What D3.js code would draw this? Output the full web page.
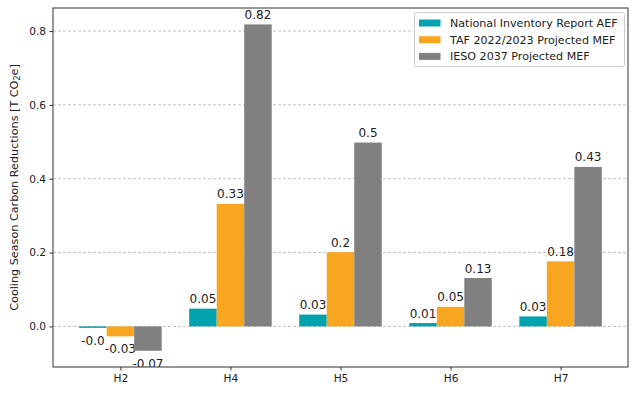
<!DOCTYPE html>
<html>
<head>
<meta charset="utf-8" />
<script src="https://d3js.org/d3.v7.min.js"></script>
<style>
  body { margin: 0; background: #fff; }
  text { font-family: "DejaVu Sans", sans-serif; }
</style>
</head>
<body>
<svg width="638" height="395"></svg>
<script>
const categories = ["H2", "H4", "H5", "H6", "H7"];
const seriesNames = ["National Inventory Report AEF", "TAF 2022/2023 Projected MEF", "IESO 2037 Projected MEF"];
const nirAEF = [-0.004, 0.048, 0.032, 0.009, 0.027];
const tafMEF = [-0.027, 0.332, 0.201, 0.053, 0.176];
const iesoMEF = [-0.066, 0.818, 0.498, 0.131, 0.432];
const yTicks = [0.0, 0.2, 0.4, 0.6, 0.8];
const colors = ["#00a3ad", "#f8a51f", "#808080"];

const svg = d3.select("svg");
const margin = { top: 8, right: 10, bottom: 28, left: 53 };
const width = 638, height = 395;

const x = d3.scaleLinear().domain([-0.6125, 4.6125]).range([margin.left, width - margin.right]);
const y = d3.scaleLinear().domain([-0.11, 0.8625]).range([height - margin.bottom, margin.top]);
const barW = 0.25;

const series = [nirAEF, tafMEF, iesoMEF];

svg.append("clipPath").attr("id", "plotclip").append("rect")
  .attr("x", margin.left).attr("y", 0)
  .attr("width", width - margin.right - margin.left)
  .attr("height", height - margin.bottom);

// grid
svg.append("g").selectAll("line").data(yTicks).enter().append("line")
  .attr("x1", margin.left).attr("x2", width - margin.right)
  .attr("y1", d => y(d)).attr("y2", d => y(d))
  .attr("stroke", "#b0b0b0").attr("stroke-width", 0.8).attr("stroke-dasharray", "3,2");

function fmt(v) {
  const r = Math.round(v * 100) / 100;
  if (r === 0) return v < 0 ? "-0.0" : "0.0";
  let s = String(r);
  if (s.indexOf(".") < 0) s += ".0";
  return s;
}

series.forEach((vals, si) => {
  const off = (si - 1) * barW;
  const g = svg.append("g");
  g.selectAll("rect").data(vals).enter().append("rect")
    .attr("x", (d, i) => x(i + off - barW / 2))
    .attr("width", x(barW) - x(0))
    .attr("y", d => y(Math.max(0, d)))
    .attr("height", d => Math.abs(y(d) - y(0)))
    .attr("fill", colors[si]);
  g.append("g").attr("clip-path", "url(#plotclip)")
    .selectAll("text").data(vals).enter().append("text")
    .attr("x", (d, i) => x(i + off))
    .attr("y", d => d >= 0 ? y(d) - 5.5 : y(d) + 17)
    .attr("text-anchor", "middle")
    .attr("font-size", "12px")
    .attr("fill", "#222")
    .text(d => fmt(d));
});

// axes
const xAxis = d3.axisBottom(x).tickValues(d3.range(categories.length))
  .tickFormat(i => categories[i]).tickSize(3.5).tickPadding(3.5);
const gx = svg.append("g").attr("transform", `translate(0,${height - margin.bottom})`).call(xAxis);
const yAxis = d3.axisLeft(y).tickValues(yTicks).tickFormat(d3.format(".1f")).tickSize(3.5).tickPadding(3.5);
const gy = svg.append("g").attr("transform", `translate(${margin.left},0)`).call(yAxis);
[gx, gy].forEach(g => {
  g.select(".domain").remove();
  g.selectAll("text").attr("font-size", "10.6px").attr("fill", "#222").style("font-family", "DejaVu Sans");
  g.selectAll("line").attr("stroke", "#333");
});

// frame
svg.append("rect")
  .attr("x", margin.left).attr("y", margin.top)
  .attr("width", width - margin.right - margin.left)
  .attr("height", height - margin.bottom - margin.top)
  .attr("fill", "none").attr("stroke", "#333").attr("stroke-width", 1);

// y label
const yl = svg.append("text")
  .attr("transform", `translate(18,${(margin.top + height - margin.bottom) / 2}) rotate(-90)`)
  .attr("text-anchor", "middle")
  .attr("font-size", "11.2px")
  .attr("fill", "#222");
yl.append("tspan").text("Cooling Season Carbon Reductions [T CO");
yl.append("tspan").attr("font-size", "8px").attr("dy", "0.25em").text("2");
yl.append("tspan").attr("dy", "-0.18em").text("e]");

// legend
const lg = svg.append("g").attr("transform", "translate(414.5,12.5)");
lg.append("rect").attr("width", 210).attr("height", 54).attr("rx", 2)
  .attr("fill", "#fff").attr("fill-opacity", 0.8).attr("stroke", "#ccc");
const li = lg.selectAll(".li").data(seriesNames).enter().append("g")
  .attr("transform", (d, i) => `translate(0,${10.5 + i * 16.7})`);
li.append("rect").attr("x", 4.5).attr("y", -3.5).attr("width", 21.5).attr("height", 7)
  .attr("fill", (d, i) => colors[i]);
li.append("text").attr("x", 35.5).attr("dy", "0.36em")
  .attr("font-size", "11.1px").attr("fill", "#222").text(d => d);
</script>
</body>
</html>
